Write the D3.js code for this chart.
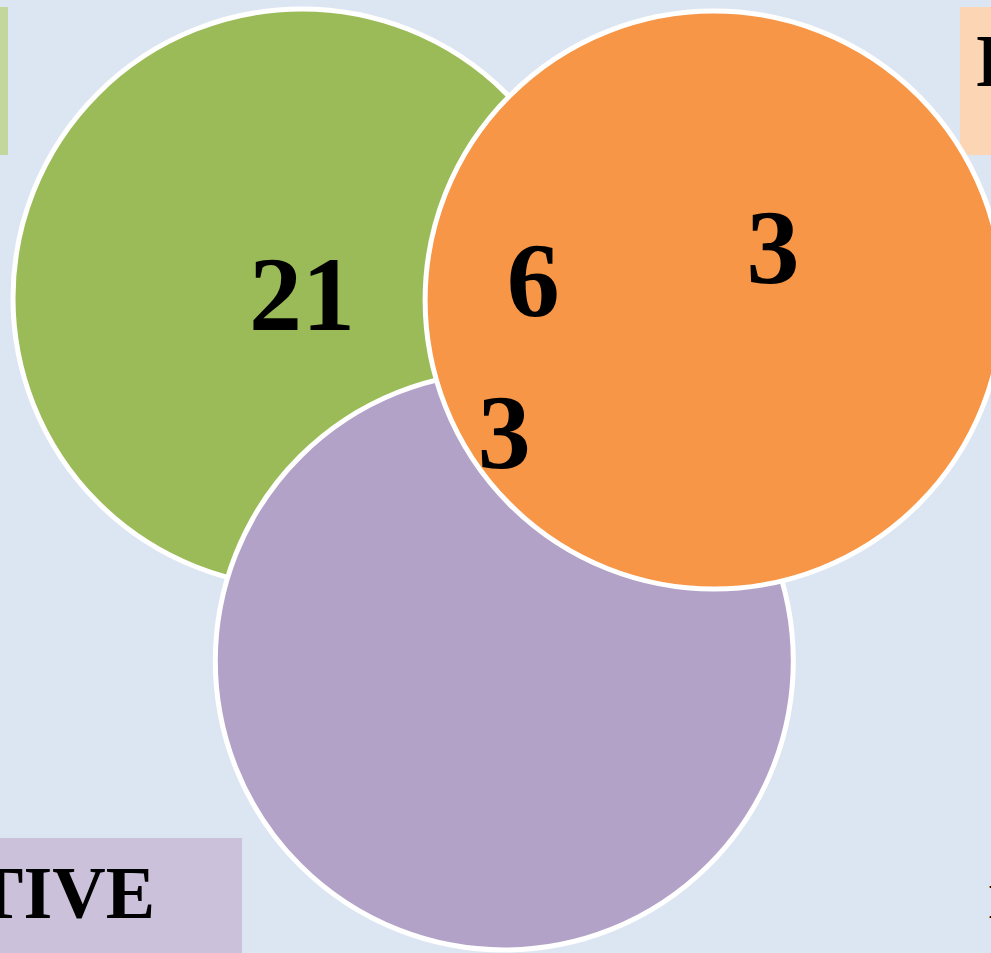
<!DOCTYPE html>
<html>
<head>
<meta charset="utf-8">
<script src="https://cdn.jsdelivr.net/npm/d3@7"></script>
<style>
html,body{margin:0;padding:0;background:#dce6f2;overflow:hidden;}
svg{display:block;}
</style>
</head>
<body>
<svg id="chart" width="991" height="953"></svg>
<script>
// Sets (drawing order: green, purple, orange on top)
const setNames = ["SET A", "NEGATIVE", "IMPACT"];
const setColors = ["#9bbb59", "#b3a2c7", "#f79646"];
const labelColors = ["#c3d69b", "#ccc1da", "#fcd5b5"];
// Abstract layout units (circle radius = 1)
const setX = [0.0, 0.7, 1.426];
const setY = [0.0, 1.256, 0.007];
// Region counts
const regionLabels = ["21", "6", "3", "3"];
const regionX = [0.0, 0.80, 1.63, 0.70];
const regionY = [0.0, -0.048, -0.163, 0.478];

const svg = d3.select("#chart");
const r = 289;
const x = d3.scaleLinear().domain([0, 1]).range([302, 302 + r]);
const y = d3.scaleLinear().domain([0, 1]).range([298, 298 + r]);

svg.append("rect").attr("width", 991).attr("height", 953).attr("fill", "#dce6f2");

// label boxes
svg.append("rect").attr("x", -20).attr("y", 7).attr("width", 28).attr("height", 148).attr("fill", labelColors[0]);
svg.append("rect").attr("x", 960).attr("y", 7).attr("width", 60).attr("height", 148).attr("fill", labelColors[2]);
svg.append("rect").attr("x", -10).attr("y", 838).attr("width", 252).attr("height", 130).attr("fill", labelColors[1]);

const font = "'Liberation Serif','Times New Roman',serif";
svg.append("text").attr("x", 155).attr("y", 918).attr("text-anchor", "end")
  .attr("font-family", font).attr("font-weight", "bold").attr("font-size", 74)
  .attr("fill", "#000").text(setNames[1]);
svg.append("text").attr("x", 975).attr("y", 86)
  .attr("font-family", font).attr("font-weight", "bold").attr("font-size", 74)
  .attr("fill", "#000").text(setNames[2]);
svg.append("text").attr("x", 988).attr("y", 918)
  .attr("font-family", font).attr("font-weight", "bold").attr("font-size", 48)
  .attr("fill", "#000").text("I");

// circles
svg.selectAll("circle.set").data(setNames).join("circle")
  .attr("class", "set")
  .attr("cx", (d, i) => x(setX[i]))
  .attr("cy", (d, i) => y(setY[i]))
  .attr("r", r)
  .attr("fill", (d, i) => setColors[i])
  .attr("stroke", "#ffffff")
  .attr("stroke-width", 5);

// region counts
svg.selectAll("text.count").data(regionLabels).join("text")
  .attr("class", "count")
  .attr("x", (d, i) => x(regionX[i]))
  .attr("y", (d, i) => y(regionY[i]) + 32)
  .attr("text-anchor", "middle")
  .attr("font-family", font)
  .attr("font-weight", "bold")
  .attr("font-size", 106)
  .attr("fill", "#000")
  .text(d => d);
</script>
</body>
</html>
